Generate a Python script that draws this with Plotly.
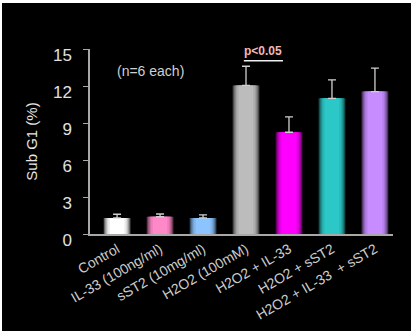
import plotly.graph_objects as go

categories = ["Control", "IL-33 (100ng/ml)", "sST2 (10mg/ml)", "H2O2 (100mM)",
              "H2O2 + IL-33", "H2O2 + sST2", "H2O2 + IL-33  + sST2"]
sub_g1 = [1.3, 1.4, 1.3, 12.05, 8.25, 11.0, 11.55]
sem = [0.3, 0.22, 0.25, 1.55, 1.25, 1.5, 1.9]
bar_colors = ["#ffffff", "#ff88c8", "#8cc4ff", "#bcbcbc", "#ff00ff", "#2cc8c8", "#c78cff"]
y_ticks = [0, 3, 6, 9, 12, 15]


def mix(hexc, target, f):
    h = hexc.lstrip("#")
    r, g, b = int(h[0:2], 16), int(h[2:4], 16), int(h[4:6], 16)
    r = round(r + (target[0] - r) * f)
    g = round(g + (target[1] - g) * f)
    b = round(b + (target[2] - b) * f)
    return f"rgb({r},{g},{b})"


fig = go.Figure()

# layered bars to imitate the cylindrical shading
layers = [(0.62, 0.6), (0.56, 0.4), (0.50, 0.22), (0.44, 0.08), (0.34, 0.0)]
for i, (w, dark) in enumerate(layers):
    last = i == len(layers) - 1
    fig.add_trace(go.Bar(
        x=categories, y=sub_g1, width=w,
        marker=dict(color=[mix(c, (0, 0, 0), dark) for c in bar_colors], line=dict(width=0)),
        error_y=dict(type="data", array=sem, symmetric=False, arrayminus=[0] * len(sem),
                     color="#d0d0d0", thickness=1.3, width=4, visible=last),
        showlegend=False, hoverinfo="skip",
    ))

fig.update_layout(
    width=414, height=334,
    margin=dict(l=90, r=21, t=49, b=100),
    paper_bgcolor="white", plot_bgcolor="black",
    barmode="overlay",
    font=dict(family="Liberation Sans, Arial, sans-serif", color="#d0d0d0"),
    xaxis=dict(range=[-0.63, 6.42], showgrid=False, zeroline=False,
               showline=True, linecolor="#a8a8a8", linewidth=1.5,
               ticks="", tickangle=-30, tickfont=dict(size=14, color="#cccccc")),
    yaxis=dict(range=[0, 15], tickvals=y_ticks, showgrid=False, zeroline=False,
               showline=True, linecolor="#a8a8a8", linewidth=1.5,
               ticks="outside", ticklen=5, tickcolor="#a8a8a8", tickwidth=1,
               tickfont=dict(size=17, color="#e0e0e0"), ticklabelstandoff=8,
               ticklabelshift=6,
               title=dict(text="Sub G1 (%)", font=dict(size=15, color="#e6e6e6"), standoff=12)),
    shapes=[
        dict(type="rect", xref="paper", yref="paper", x0=-0.2904, x1=1.0594,
             y0=-0.5243, y1=1.2486, fillcolor="black", line=dict(width=0), layer="below"),
        dict(type="line", xref="x", yref="y", x0=2.95, x1=3.86, y0=14.05, y1=14.05,
             line=dict(color="#f0f0f0", width=1.5)),
    ],
    annotations=[
        dict(text="<b>p<0.05</b>", x=3.4, y=14.86, xref="x", yref="y", showarrow=False,
             font=dict(size=12, color="#f2b8b4")),
        dict(text="(n=6 each)", x=0.77, y=13.2, xref="x", yref="y", showarrow=False,
             font=dict(size=14, color="#d0d0d0")),
    ],
)

fig.write_html("out.html")
